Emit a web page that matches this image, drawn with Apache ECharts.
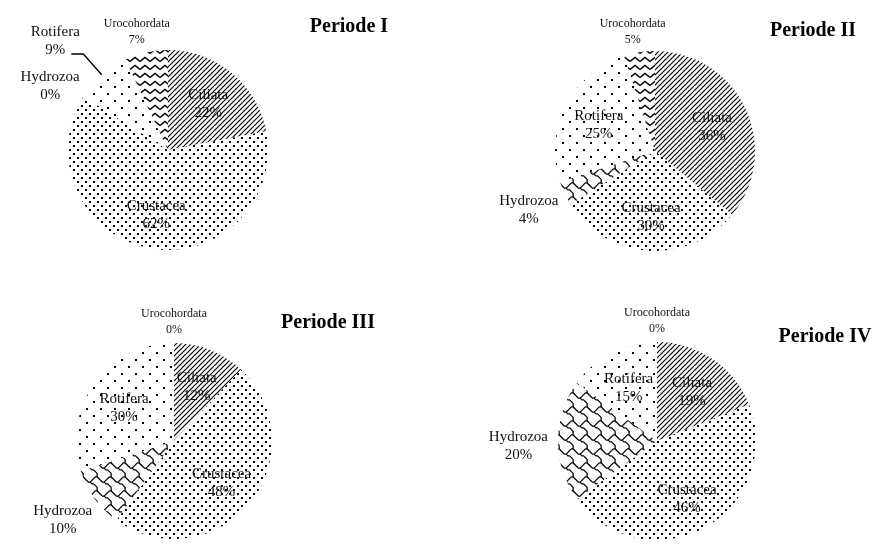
<!DOCTYPE html>
<html>
<head>
<meta charset="utf-8">
<script src="https://cdn.jsdelivr.net/npm/echarts@6/dist/echarts.min.js"></script>
<style>
  html, body { margin: 0; padding: 0; background: #fff; }
  #chart { width: 874px; height: 544px; }
</style>
</head>
<body>
<div id="chart"></div>
<script>
// data (percent per group, clockwise from 12 o'clock)
const groups = ['Ciliata', 'Crustacea', 'Hydrozoa', 'Rotifera', 'Urocohordata'];
const periode1 = [22, 62, 0, 9, 7];
const periode2 = [36, 30, 4, 25, 5];
const periode3 = [12, 48, 10, 30, 0];
const periode4 = [19, 46, 20, 15, 0];
const titles = ['Periode I', 'Periode II', 'Periode III', 'Periode IV'];

const periods = [periode1, periode2, periode3, periode4];

// layout / style
const pies = [
  { center: [168, 150], radius: 100, title: [344, 12] },
  { center: [655, 151], radius: 100, title: [808, 16] },
  { center: [174, 441], radius: 98, title: [323, 308] },
  { center: [657, 441], radius: 99, title: [820, 322] },
];
// which labels sit inside the slice
const inside = [
  [true, true, false, false, false],
  [true, true, false, true, false],
  [true, true, false, true, false],
  [true, true, false, true, false],
];
const leader = { 0: 'Rotifera' };
const FONT = '"Liberation Serif", "Times New Roman", serif';

function tile(w, h, draw) {
  const c = document.createElement('canvas');
  c.width = w; c.height = h;
  const ctx = c.getContext('2d');
  ctx.fillStyle = '#fff';
  ctx.fillRect(0, 0, w, h);
  ctx.fillStyle = '#000';
  ctx.strokeStyle = '#000';
  draw(ctx);
  return { image: c, repeat: 'repeat' };
}

// shingle strokes on an 8x8 grid, drawn scaled and wrapped
function shingle(ctx, s) {
  const paths = [
    [[7.5, 0.5], [6.5, 0.5], [3.5, 3.5], [2.5, 3.5], [-0.5, 0.5]],
    [[3.5, 3.5], [4.5, 4.5], [5.5, 4.5], [7.5, 6.5], [7.5, 8.5]],
  ];
  ctx.lineWidth = 1.3;
  ctx.lineJoin = 'round';
  for (const ox of [-8, 0, 8]) {
    for (const oy of [-8, 0, 8]) {
      for (const pts of paths) {
        ctx.beginPath();
        pts.forEach(([x, y], n) => {
          const px = (x + ox) * s, py = (y + oy) * s;
          if (n === 0) ctx.moveTo(px, py); else ctx.lineTo(px, py);
        });
        ctx.stroke();
      }
    }
  }
}

const patterns = {
  Crustacea: tile(8, 8, ctx => {
    ctx.fillRect(1, 1, 2, 2);
    ctx.fillRect(5, 5, 2, 2);
  }),
  Rotifera: tile(14, 14, ctx => {
    ctx.fillRect(2, 2, 2, 2);
    ctx.fillRect(9, 9, 2, 2);
  }),
  Ciliata: tile(5, 5, ctx => {
    ctx.lineWidth = 1.2;
    ctx.beginPath();
    ctx.moveTo(-1, 1); ctx.lineTo(1, -1);
    ctx.moveTo(0, 5); ctx.lineTo(5, 0);
    ctx.moveTo(4, 6); ctx.lineTo(6, 4);
    ctx.stroke();
  }),
  Urocohordata: tile(10, 8, ctx => {
    ctx.lineWidth = 1.5;
    ctx.beginPath();
    ctx.moveTo(0, 5.5); ctx.lineTo(5, 1.5); ctx.lineTo(10, 5.5);
    ctx.stroke();
  }),
  Hydrozoa: tile(14, 14, ctx => shingle(ctx, 1.75)),
};

function layoutFor(k) {
  const vals = periods[k];
  const total = vals.reduce((a, b) => a + b, 0);
  const [cx, cy] = pies[k].center;
  const r = pies[k].radius;
  return function (p) {
    const i = p.dataIndex;
    let start = 0;
    for (let j = 0; j < i; j++) start += vals[j];
    const mid = (start + vals[i] / 2) / total * Math.PI * 2;
    const dx = Math.sin(mid), dy = -Math.cos(mid);
    if (inside[k][i]) {
      return { x: cx + dx * r * 0.63, y: cy + dy * r * 0.63 + 3, align: 'center', verticalAlign: 'middle' };
    }
    if (leader[k] === groups[i]) {
      const p1 = [cx + dx * r, cy + dy * r];
      const p2 = [cx + dx * (r + 28), cy + dy * (r + 28)];
      const p3 = [p2[0] - 12, p2[1]];
      return {
        x: p3[0] - 16, y: p3[1] - 13, align: 'center', verticalAlign: 'middle',
        labelLinePoints: [p1, p2, p3]
      };
    }
    const hw = p.labelRect.width / 2, hh = p.labelRect.height / 2;
    const g = 10;
    return {
      x: cx + dx * (r + g) + dx * hw,
      y: cy + dy * (r + g) + dy * hh + 5,
      align: 'center', verticalAlign: 'middle'
    };
  };
}

const chart = echarts.init(document.getElementById('chart'));

const options = {
  animation: false,
  backgroundColor: '#fff',
  title: titles.map((t, k) => ({
    text: t,
    left: pies[k].title[0],
    top: pies[k].title[1],
    textAlign: 'center',
    textStyle: { fontFamily: FONT, fontWeight: 'bold', fontSize: 20, color: '#000' },
  })),
  series: periods.map((vals, k) => ({
    type: 'pie',
    center: pies[k].center,
    radius: pies[k].radius,
    startAngle: 90,
    clockwise: true,
    avoidLabelOverlap: false,
    silent: true,
    itemStyle: { borderWidth: 0 },
    label: {
      show: true,
      formatter: '{b}\n{c}%',
      fontFamily: FONT,
      fontSize: 15,
      lineHeight: 18,
      color: '#111',
    },
    labelLine: { show: false, lineStyle: { color: '#000', width: 1.3 } },
    labelLayout: layoutFor(k),
    data: groups.map((g, i) => {
      const item = {
        name: g,
        value: vals[i],
        itemStyle: { color: patterns[g] },
        label: { position: inside[k][i] ? 'inside' : 'outside' },
      };
      if (g === 'Urocohordata') {
        item.label.fontSize = 12;
        item.label.lineHeight = 16;
      }
      if (leader[k] === g) {
        item.labelLine = { show: true, length: 28, length2: 12 };
      }
      return item;
    }),
  })),
};

chart.setOption(options);
</script>
</body>
</html>
